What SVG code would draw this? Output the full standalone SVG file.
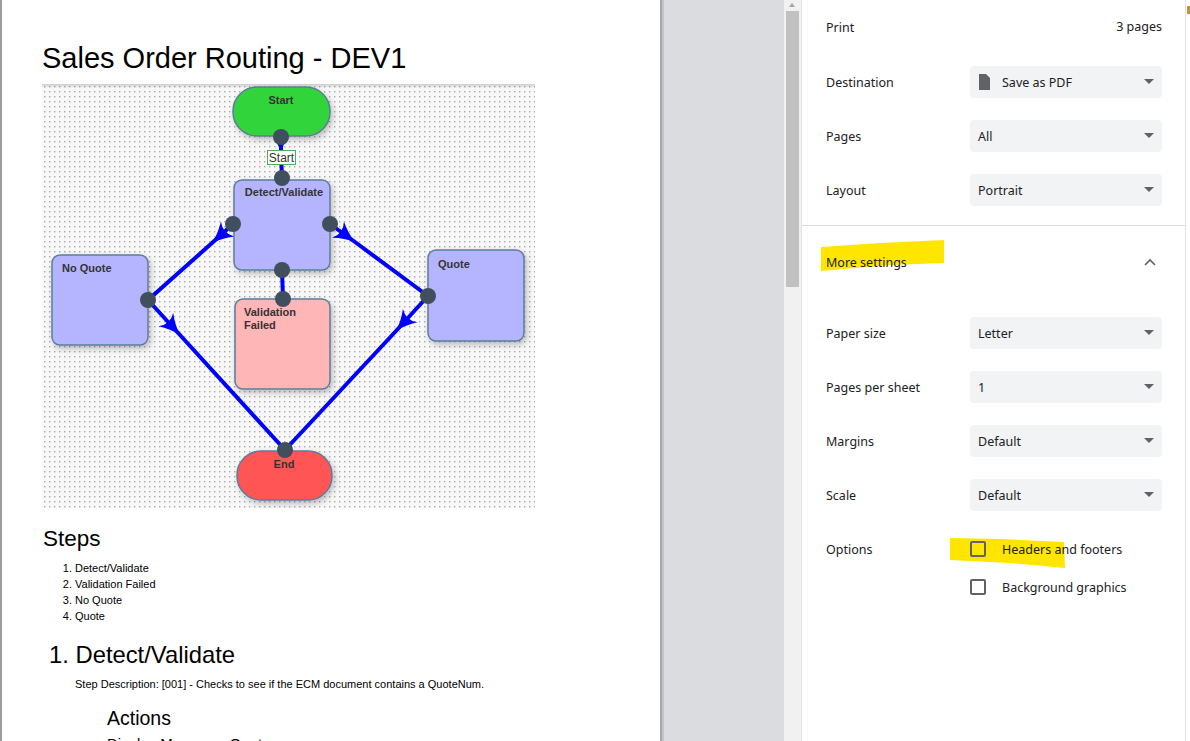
<svg xmlns="http://www.w3.org/2000/svg" width="1190" height="741" viewBox="0 0 1190 741">
<style>
.doc{font-family:"Liberation Sans",Arial,sans-serif;fill:#000}
.nl{font-family:"Liberation Sans",Arial,sans-serif;font-size:11px;font-weight:bold;fill:#333}
.node{stroke:#5b7d9c;stroke-width:1.5}
.port{fill:#3f4f5e}
.con{fill:none;stroke:#0000ff;stroke-width:4}
.ui{font-family:"Noto Sans","Open Sans",sans-serif;font-size:12.5px;fill:#202124}
.box{fill:#f1f3f4}
.tri{fill:#5f6368}
.chk{fill:none;stroke:#5f6368;stroke-width:2}
</style>
<defs>
<pattern id="grid" x="42" y="84" width="5" height="5" patternUnits="userSpaceOnUse">
<rect width="5" height="5" fill="#f8f8f8"/>
<rect x="2" y="2" width="1.4" height="1.4" fill="#aaaaaa"/>
</pattern>
<linearGradient id="topsh" x1="0" y1="0" x2="0" y2="1">
<stop offset="0" stop-color="#000" stop-opacity="0.18"/>
<stop offset="1" stop-color="#000" stop-opacity="0"/>
</linearGradient>
<filter id="sh" x="-20%" y="-20%" width="150%" height="150%">
<feDropShadow dx="2" dy="3" stdDeviation="3" flood-color="#000" flood-opacity="0.25"/>
</filter>
<marker id="arr" markerUnits="userSpaceOnUse" viewBox="-24 -12 26 24" markerWidth="26" markerHeight="24" refX="0" refY="0" orient="auto">
<path d="M0,0 Q-11,-3 -21,-10 Q-14,0 -21,10 Q-11,3 0,0 Z" fill="#0000ff"/>
</marker>
</defs>

<!-- page background -->
<rect x="0" y="0" width="1190" height="741" fill="#ffffff"/>
<rect x="0" y="0" width="2" height="741" fill="#9e9e9e"/>
<rect x="660" y="0" width="125" height="741" fill="#dadce0"/>
<rect x="660" y="0" width="2" height="741" fill="#a8a9ad"/>
<rect x="662" y="0" width="2" height="741" fill="#c4c5c9"/>
<rect x="784" y="0" width="17" height="741" fill="#f1f1f1"/>
<rect x="786" y="11" width="13" height="276" fill="#c1c1c1"/>
<path d="M789,7 L792,3 L795,7 Z" fill="#a3a3a3"/>
<rect x="801" y="0" width="1" height="741" fill="#e3e3e3"/>
<rect x="1185" y="0" width="1" height="741" fill="#e3e3e3"/>
<rect x="1187" y="6" width="3" height="8" fill="#c9923a"/>

<!-- document -->
<text class="doc" x="42" y="68" font-size="29">Sales Order Routing - DEV1</text>

<!-- diagram canvas -->
<rect x="42" y="84" width="493" height="424" fill="url(#grid)"/>
<rect x="42" y="84" width="493" height="4" fill="url(#topsh)"/>

<g id="connectors">
<path class="con" d="M281,137 L281,153 L282,178" marker-mid="url(#arr)"/>
<path class="con" d="M233,224 L212,243 L148,300" marker-mid="url(#arr)"/>
<path class="con" d="M330,224 L355,242 L428,296" marker-mid="url(#arr)"/>
<path class="con" d="M148,300 L180,335 L285,450" marker-mid="url(#arr)"/>
<path class="con" d="M428,296 L396,331 L285,450" marker-mid="url(#arr)"/>
<path class="con" d="M282,270 L283,299"/>
</g>

<g id="start">
<rect class="node" x="233" y="87" width="97" height="49" rx="24" fill="#33d43a" filter="url(#sh)"/>
<text class="nl" x="281" y="104" text-anchor="middle">Start</text>
</g>
<g id="detect">
<rect class="node" x="234" y="180" width="96" height="90" rx="8" fill="#b5b5ff" filter="url(#sh)"/>
<text class="nl" x="284" y="196" text-anchor="middle">Detect/Validate</text>
</g>
<g id="noquote">
<rect class="node" x="52" y="255" width="96" height="90" rx="8" fill="#b5b5ff" filter="url(#sh)"/>
<text class="nl" x="62" y="272">No Quote</text>
</g>
<g id="quote">
<rect class="node" x="428" y="250" width="96" height="91" rx="8" fill="#b5b5ff" filter="url(#sh)"/>
<text class="nl" x="438" y="268">Quote</text>
</g>
<g id="validationfailed">
<rect class="node" x="235" y="299" width="95" height="90" rx="8" fill="#ffb6b6" filter="url(#sh)"/>
<text class="nl" x="244" y="316">Validation</text>
<text class="nl" x="244" y="329">Failed</text>
</g>
<g id="end">
<rect class="node" x="237" y="451" width="95" height="49" rx="24" fill="#ff5555" filter="url(#sh)"/>
<text class="nl" x="284" y="468" text-anchor="middle">End</text>
</g>

<g id="ports">
<circle class="port" cx="281" cy="137" r="8"/>
<circle class="port" cx="282" cy="178" r="8"/>
<circle class="port" cx="233" cy="224" r="8"/>
<circle class="port" cx="330" cy="224" r="8"/>
<circle class="port" cx="282" cy="270" r="8"/>
<circle class="port" cx="283" cy="299" r="8"/>
<circle class="port" cx="148" cy="300" r="8"/>
<circle class="port" cx="428" cy="296" r="8"/>
<circle class="port" cx="285" cy="450" r="8"/>
</g>

<g id="startlabel">
<rect x="267.5" y="150.5" width="28" height="14" fill="#ffffff" stroke="#4caf50" stroke-width="1"/>
<text x="281.5" y="162" text-anchor="middle" font-family="Liberation Sans,Arial,sans-serif" font-size="12" fill="#333">Start</text>
</g>

<text class="doc" x="43" y="546" font-size="22.5">Steps</text>
<g class="doc" font-size="11">
<text x="72" y="572" text-anchor="end">1.</text><text x="75" y="572">Detect/Validate</text>
<text x="72" y="588" text-anchor="end">2.</text><text x="75" y="588">Validation Failed</text>
<text x="72" y="604" text-anchor="end">3.</text><text x="75" y="604">No Quote</text>
<text x="72" y="620" text-anchor="end">4.</text><text x="75" y="620">Quote</text>
</g>
<text class="doc" x="49" y="663" font-size="23.8">1. Detect/Validate</text>
<text class="doc" x="75" y="688" font-size="11">Step Description: [001] - Checks to see if the ECM document contains a QuoteNum.</text>
<text class="doc" x="107" y="725" font-size="19.5">Actions</text>
<text class="doc" x="107" y="748.5" font-size="15">Display Message: Quote</text>

<!-- print panel -->
<text class="ui" x="826" y="32" font-size="15.5">Print</text>
<text class="ui" x="1162" y="31" text-anchor="end" font-size="13">3 pages</text>

<text class="ui" x="826" y="87">Destination</text>
<rect class="box" x="970" y="66" width="192" height="32" rx="4"/>
<path d="M979,74 L986,74 L990,78 L990,90 L979,90 Z" fill="#5f6368"/>
<text class="ui" x="1002" y="87">Save as PDF</text>
<path class="tri" d="M1144,79 L1154,79 L1149,84 Z"/>

<text class="ui" x="826" y="141">Pages</text>
<rect class="box" x="970" y="120" width="192" height="32" rx="4"/>
<text class="ui" x="978" y="141">All</text>
<path class="tri" d="M1144,133 L1154,133 L1149,138 Z"/>

<text class="ui" x="826" y="195">Layout</text>
<rect class="box" x="970" y="174" width="192" height="32" rx="4"/>
<text class="ui" x="978" y="195">Portrait</text>
<path class="tri" d="M1144,187 L1154,187 L1149,192 Z"/>

<rect x="802" y="225" width="383" height="1" fill="#dadce0"/>

<path d="M821,247 L880,243 L944,240 L944,263 L890,265 L821,271 Z" fill="#ffe500"/>
<text class="ui" x="826" y="267">More settings</text>
<path d="M1145,265 L1150,260 L1155,265" fill="none" stroke="#5f6368" stroke-width="1.6"/>

<text class="ui" x="826" y="338">Paper size</text>
<rect class="box" x="970" y="317" width="192" height="32" rx="4"/>
<text class="ui" x="978" y="338">Letter</text>
<path class="tri" d="M1144,330 L1154,330 L1149,335 Z"/>

<text class="ui" x="826" y="392">Pages per sheet</text>
<rect class="box" x="970" y="371" width="192" height="32" rx="4"/>
<text class="ui" x="978" y="392">1</text>
<path class="tri" d="M1144,384 L1154,384 L1149,389 Z"/>

<text class="ui" x="826" y="446">Margins</text>
<rect class="box" x="970" y="425" width="192" height="32" rx="4"/>
<text class="ui" x="978" y="446">Default</text>
<path class="tri" d="M1144,438 L1154,438 L1149,443 Z"/>

<text class="ui" x="826" y="500">Scale</text>
<rect class="box" x="970" y="479" width="192" height="32" rx="4"/>
<text class="ui" x="978" y="500">Default</text>
<path class="tri" d="M1144,492 L1154,492 L1149,497 Z"/>

<text class="ui" x="826" y="554">Options</text>
<path d="M950,538 L1000,539 L1064,542 L1065,568 L1010,563 L950,560 Z" fill="#ffe500"/>
<rect class="chk" x="971" y="542" width="14" height="14" rx="1"/>
<text class="ui" x="1002" y="554">Headers and footers</text>
<rect class="chk" x="971" y="580" width="14" height="14" rx="1"/>
<text class="ui" x="1002" y="592">Background graphics</text>
</svg>
